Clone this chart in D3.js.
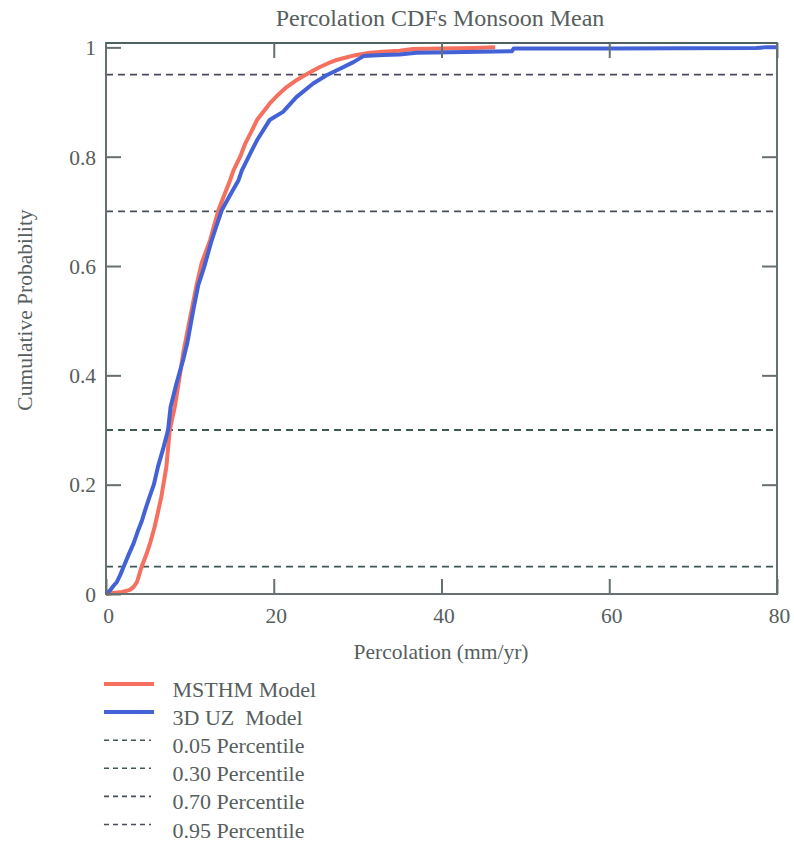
<!DOCTYPE html>
<html>
<head>
<meta charset="utf-8">
<script src="https://cdn.jsdelivr.net/npm/d3@7"></script>
<style>
  html, body { margin: 0; padding: 0; background: #fff; }
  svg { display: block; }
  text { font-family: "Liberation Serif", "Times New Roman", serif; fill: #565e5e; white-space: pre; }
</style>
</head>
<body>
<svg id="chart" width="794" height="845"></svg>
<script>
// ---- data ----
const titleText = "Percolation CDFs Monsoon Mean";
const xLabel = "Percolation (mm/yr)";
const yLabel = "Cumulative Probability";
const xTicks = [0, 20, 40, 60, 80];
const yTicks = [0, 0.2, 0.4, 0.6, 0.8, 1];
const yTickLabels = ["0", "0.2", "0.4", "0.6", "0.8", "1"];
const percentiles = [0.05, 0.30, 0.70, 0.95];
const percentileLabels = ["0.05 Percentile", "0.30 Percentile", "0.70 Percentile", "0.95 Percentile"];
const seriesNames = ["MSTHM Model", "3D UZ  Model"];

// MSTHM Model CDF: [percolation, cumulative probability]
const msthmX = [0, 0.8, 1.7, 2.5, 2.9, 3.3, 3.7, 4.25, 4.85, 5.3, 5.8, 6.2, 6.6, 7.2, 7.6, 8.2, 8.7, 9.2, 9.7, 10.2, 10.8, 11.4, 12.4, 13.0, 13.4, 14.1, 14.8, 15.2, 16.0, 16.6, 17.3, 18.0, 19.5, 20.5, 21.5, 22.5, 23.5, 24.5, 25.5, 26.5, 27.5, 28.5, 29.5, 31.5, 33, 35, 36.6, 40, 44, 46.4];
const msthmY = [0, 0.002, 0.003, 0.006, 0.008, 0.013, 0.022, 0.05, 0.074, 0.095, 0.123, 0.15, 0.178, 0.233, 0.30, 0.342, 0.39, 0.44, 0.48, 0.519, 0.565, 0.605, 0.647, 0.68, 0.702, 0.73, 0.757, 0.775, 0.80, 0.824, 0.845, 0.867, 0.897, 0.913, 0.927, 0.938, 0.947, 0.956, 0.964, 0.971, 0.977, 0.981, 0.985, 0.990, 0.992, 0.994, 0.997, 0.998, 0.999, 1.0];

// 3D UZ Model CDF
const uzX = [0, 0.5, 0.9, 1.3, 1.7, 2.1, 2.7, 3.3, 3.8, 4.3, 4.8, 5.2, 5.7, 6.2, 6.8, 7.4, 7.7, 8.4, 9.2, 9.7, 10.4, 11.0, 11.7, 12.6, 13.2, 13.8, 14.8, 15.8, 16.2, 17.4, 18.0, 19.5, 21.1, 22.7, 24.7, 26.3, 27.9, 29.5, 30.7, 33, 35, 37, 41, 48.4, 48.6, 60, 77.5, 78.5, 80];
const uzY = [0, 0.007, 0.015, 0.022, 0.035, 0.05, 0.072, 0.093, 0.115, 0.135, 0.16, 0.178, 0.2, 0.233, 0.265, 0.30, 0.342, 0.385, 0.428, 0.46, 0.519, 0.565, 0.598, 0.647, 0.675, 0.702, 0.73, 0.757, 0.775, 0.812, 0.83, 0.867, 0.882, 0.909, 0.934, 0.949, 0.961, 0.973, 0.984, 0.986, 0.987, 0.990, 0.991, 0.993, 0.998, 0.998, 0.999, 1.0, 1.0];

// ---- layout ----
const svg = d3.select("#chart");
const plot = { left: 106, right: 777, top: 43, bottom: 594 };
const x = d3.scaleLinear().domain([0, 80]).range([plot.left, plot.right]);
const y = d3.scaleLinear().domain([0, 1.008]).range([plot.bottom, plot.top]);

const axisColor = "#667070";
const redColor = "#f5705f";
const blueColor = "#4262d6";
const dashColors = ["#3e5656", "#3f5a52", "#474e58", "#4a4a5e"];

// percentile dashed lines
svg.append("g").selectAll("line").data(percentiles).join("line")
  .attr("x1", plot.left).attr("x2", plot.right)
  .attr("y1", d => y(d)).attr("y2", d => y(d))
  .attr("stroke", (d, i) => dashColors[i])
  .attr("stroke-width", 1.8)
  .attr("stroke-dasharray", "7,5");

// curves
const line = d3.line().x(d => x(d[0])).y(d => y(d[1])).curve(d3.curveLinear);
const msthm = msthmX.map((v, i) => [v, msthmY[i]]);
const uz = uzX.map((v, i) => [v, uzY[i]]);
svg.append("path").datum(msthm).attr("d", line)
  .attr("fill", "none").attr("stroke", redColor).attr("stroke-width", 4).attr("stroke-linejoin", "round");
svg.append("path").datum(uz).attr("d", line)
  .attr("fill", "none").attr("stroke", blueColor).attr("stroke-width", 4).attr("stroke-linejoin", "round");

// frame
svg.append("rect")
  .attr("x", plot.left).attr("y", plot.top)
  .attr("width", plot.right - plot.left).attr("height", plot.bottom - plot.top)
  .attr("fill", "none").attr("stroke", axisColor).attr("stroke-width", 2);
svg.append("line").attr("x1", plot.left).attr("x2", plot.right).attr("y1", plot.top).attr("y2", plot.top)
  .attr("stroke", "#4e6262").attr("stroke-width", 2);

// axes (inward ticks)
const xAxisB = d3.axisBottom(x).tickValues(xTicks).tickSizeInner(-15).tickSizeOuter(0).tickFormat(d => d);
const gxb = svg.append("g").attr("transform", `translate(0,${plot.bottom})`).call(xAxisB);
gxb.select(".domain").remove();
gxb.selectAll(".tick line").attr("stroke", axisColor).attr("stroke-width", 2);
gxb.selectAll(".tick text").attr("dy", null).attr("y", 29).attr("dx", 2)
  .style("font-size", "21.5px").style("font-family", "Liberation Serif, serif").attr("fill", "#565e5e");

const xAxisT = d3.axisTop(x).tickValues(xTicks.slice(1)).tickSizeInner(-15).tickSizeOuter(0).tickFormat("");
const gxt = svg.append("g").attr("transform", `translate(0,${plot.top})`).call(xAxisT);
gxt.select(".domain").remove();
gxt.selectAll(".tick line").attr("stroke", axisColor).attr("stroke-width", 2);

const yAxisL = d3.axisLeft(y).tickValues(yTicks).tickSizeInner(-15).tickSizeOuter(0)
  .tickFormat((d, i) => yTickLabels[i]);
const gyl = svg.append("g").attr("transform", `translate(${plot.left},0)`).call(yAxisL);
gyl.select(".domain").remove();
gyl.selectAll(".tick line").attr("stroke", axisColor).attr("stroke-width", 2);
gyl.selectAll(".tick text").attr("x", -10).attr("dy", "0.34em")
  .style("font-size", "21.5px").style("font-family", "Liberation Serif, serif").attr("fill", "#565e5e");

const yAxisR = d3.axisRight(y).tickValues(yTicks.slice(1, 5)).tickSizeInner(-15).tickSizeOuter(0).tickFormat("");
const gyr = svg.append("g").attr("transform", `translate(${plot.right},0)`).call(yAxisR);
gyr.select(".domain").remove();
gyr.selectAll(".tick line").attr("stroke", axisColor).attr("stroke-width", 2);

// title & labels
svg.append("text").attr("x", 440).attr("y", 26).attr("text-anchor", "middle")
  .style("font-size", "24px").text(titleText);
svg.append("text").attr("x", 441).attr("y", 659).attr("text-anchor", "middle")
  .style("font-size", "21.5px").text(xLabel);
svg.append("text").attr("transform", "translate(32,310) rotate(-90)").attr("text-anchor", "middle")
  .style("font-size", "21.5px").text(yLabel);

// legend
const legendItems = [
  { name: seriesNames[0], color: redColor, dash: null, width: 4 },
  { name: seriesNames[1], color: blueColor, dash: null, width: 4 },
  ...percentileLabels.map((p, i) => ({ name: p, color: dashColors[i], dash: "5,4", width: 1.6 }))
];
const lg = svg.append("g").attr("transform", "translate(104,684)");
const rows = lg.selectAll("g").data(legendItems).join("g")
  .attr("transform", (d, i) => `translate(0,${i * 28.1})`);
rows.append("line").attr("x1", 0).attr("x2", d => d.dash ? 47 : 50).attr("y1", 0).attr("y2", 0)
  .attr("stroke", d => d.color).attr("stroke-width", d => d.width)
  .attr("stroke-dasharray", d => d.dash);
rows.append("text").attr("x", 68.5).attr("y", 13).attr("xml:space", "preserve")
  .style("font-size", "22px").text(d => d.name);
</script>
</body>
</html>
